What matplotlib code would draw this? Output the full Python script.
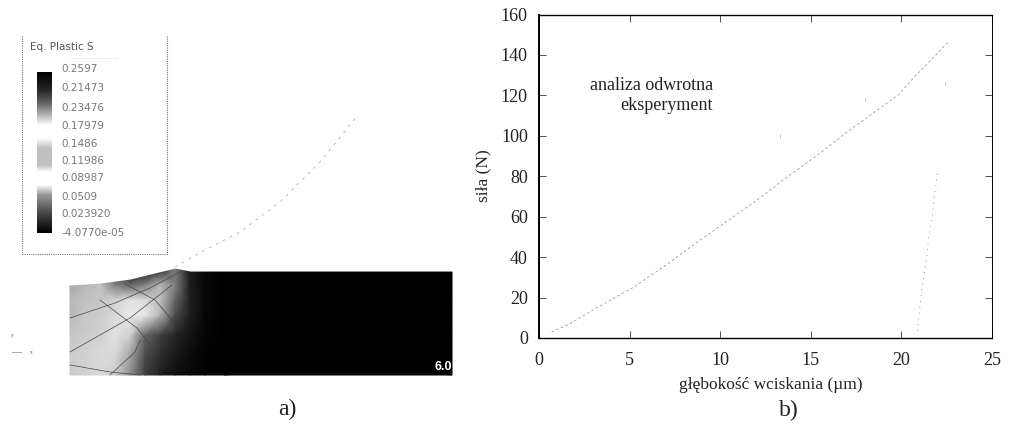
import numpy as np
import matplotlib
matplotlib.use("Agg")
import matplotlib.pyplot as plt

plt.rcParams['font.family'] = ['Liberation Serif', 'DejaVu Sans']

# b) force vs depth
x_analysis = [0.7, 1.7, 3.2, 5.2, 7.0, 8.9, 12.0, 13.3, 15.3, 16.8, 18.4, 19.8, 20.6, 21.9, 22.6]
y_analysis = [3, 7, 15, 25, 36, 48.5, 68, 77, 90, 100.5, 111, 120, 128, 140, 146.5]
x_unload = [20.9, 21.0, 21.2, 21.4, 21.5, 21.7, 21.8, 22.0]
y_unload = [3.5, 14, 29, 40, 50, 60, 69, 82]
x_stray = [13.3, 18.0, 22.4]
y_stray = [100, 118, 126]
x_ticks = [0, 5, 10, 15, 20, 25]
y_ticks = [0, 20, 40, 60, 80, 100, 120, 140, 160]

# a) FE contour, gray levels (1 = white)
mesh_x = [70, 85, 100, 115, 130, 145, 160, 175, 190, 205, 225, 452]
mesh_y = [266, 285, 300, 315, 335, 355, 375]
mesh_gray = [
    [0.10, 0.55, 0.65, 0.30, 0.02, 0.02, 0.05, 0.45, 0.10, 0.03, 0.0, 0.0],
    [0.65, 0.72, 0.75, 0.50, 0.40, 0.50, 0.72, 0.50, 0.12, 0.03, 0.0, 0.0],
    [0.72, 0.75, 0.78, 0.82, 0.88, 0.85, 0.75, 0.40, 0.12, 0.03, 0.0, 0.0],
    [0.72, 0.78, 0.80, 0.85, 0.92, 0.92, 0.70, 0.30, 0.12, 0.03, 0.0, 0.0],
    [0.78, 0.80, 0.82, 0.88, 0.82, 0.40, 0.25, 0.15, 0.08, 0.02, 0.0, 0.0],
    [0.80, 0.82, 0.85, 0.85, 0.65, 0.30, 0.18, 0.10, 0.05, 0.01, 0.0, 0.0],
    [0.80, 0.82, 0.85, 0.80, 0.55, 0.25, 0.12, 0.06, 0.03, 0.01, 0.0, 0.0],
]
top_x = [66, 70, 100, 130, 150, 175, 190, 456]
top_y = [284, 284, 282, 278, 273, 267, 270, 270]
lines_a = [
    ([70, 130, 172], [352, 318, 285]),
    ([70, 115, 150, 180], [318, 303, 288, 272]),
    ([100, 137, 150], [300, 328, 345]),
    ([70, 110, 140], [365, 372, 375]),
    ([125, 155, 172], [284, 300, 320]),
    ([140, 135, 110], [340, 352, 375]),
]
indenter_x = [175, 205, 240, 280, 320, 358]
indenter_y = [267, 250, 232, 202, 162, 115]

legend_title = "Eq. Plastic S"
legend_labels = ["0.2597", "0.21473", "0.23476", "0.17979", "0.1486",
                 "0.11986", "0.08987", "0.0509", "0.023920", "-4.0770e-05"]
legend_y = [69, 88, 108, 126, 144, 161, 178, 197, 214, 233]
bar_y = [72, 90, 103, 118, 125, 138, 148, 165, 172, 185, 195, 212, 233]
bar_gray = [0.0, 0.15, 0.4, 0.8, 1.0, 1.0, 0.75, 0.75, 1.0, 1.0, 0.6, 0.3, 0.0]

fig = plt.figure(figsize=(10.1, 4.25), dpi=100)

# left panel drawn on an axes in pixel units
left = fig.add_axes([0, 0, 1, 1])

left.pcolormesh(mesh_x, mesh_y, np.array(mesh_gray), cmap='gray', vmin=0, vmax=1,
                shading='gouraud', zorder=1)
# white out everything above the deformed top surface
left.fill_between(top_x, [258] * len(top_x), top_y, color='white', lw=1.5, zorder=2)
for lx, ly in lines_a:
    left.plot(lx, ly, color='#444444', lw=0.5, zorder=3)
left.plot(indenter_x, indenter_y, color='#bbbbbb', lw=0.7, ls=(0, (3, 5)), zorder=3)
left.text(443, 367, "6.0", color='white', fontsize=9, family='Liberation Sans', weight='bold',
          ha='center', va='center', zorder=4)

left.plot([22, 22, 167, 167], [36, 254, 254, 36], color='#777777', lw=0.8, ls=(0, (1, 1)))
left.text(30, 47, legend_title, fontsize=7.5, color='#555555', family='DejaVu Sans', va='center')
left.plot([70, 118], [58, 58], color='#bbbbbb', lw=0.5, ls=':')
for lab, ly in zip(legend_labels, legend_y):
    left.text(61, ly, lab, fontsize=7.5, color='#777777', family='DejaVu Sans', va='center')
left.imshow(np.interp(np.arange(72, 234), bar_y, bar_gray).reshape(-1, 1), cmap='gray',
            vmin=0, vmax=1, extent=[37, 52, 233, 72], aspect='auto', zorder=2)
left.set_xlim(0, 1010)
left.set_ylim(425, 0)
left.axis('off')

left.text(12, 335, "y", fontsize=4, color='#555555', ha='center', va='center')
left.text(31, 353, "x", fontsize=4, color='#555555', ha='center', va='center')
left.plot([12, 21], [352, 352], color='#999999', lw=0.6)
left.text(287, 409, "a)", fontsize=17, color='#222222', ha='center', va='center')
left.text(789, 410, "b)", fontsize=17, color='#222222', ha='center', va='center')

# right panel
ax = fig.add_axes([539 / 1010, 1 - 338 / 425, (992 - 539) / 1010, (338 - 14.5) / 425])
ax.plot(x_analysis, y_analysis, color='#999999', lw=0.6, ls=(0, (3, 3)))
ax.plot(x_unload, y_unload, color='#999999', lw=0.7, ls=(0, (1, 5)))
ax.plot(x_stray, y_stray, ls='none', marker='|', ms=3, mew=0.5, color='#bbbbbb')
ax.set_xlim(0, 25)
ax.set_ylim(0, 160)
ax.set_xticks(x_ticks)
ax.set_yticks(y_ticks)
ax.tick_params(direction='in', top=True, right=True, length=5, width=0.6, labelsize=13,
               color='#333333', labelcolor='#222222')
ax.tick_params(axis='x', pad=10)
ax.tick_params(axis='y', pad=8)
ax.spines['left'].set_linewidth(1.4)
ax.spines['bottom'].set_linewidth(1.0)
ax.spines['top'].set_linewidth(1.0)
ax.spines['right'].set_linewidth(0.7)
fig.text(771 / 1010, 1 - 385 / 425, "głębokość wciskania (µm)", fontsize=12.5, color='#222222',
         ha='center', va='center')
fig.text(483 / 1010, 1 - 176 / 425, "siła (N)", fontsize=12.5, color='#222222', rotation=90,
         ha='center', va='center')
fig.text(713 / 1010, 1 - 86 / 425, "analiza odwrotna", fontsize=13, color='#222222',
         ha='right', va='center')
fig.text(713 / 1010, 1 - 105 / 425, "eksperyment", fontsize=13, color='#222222',
         ha='right', va='center')

plt.savefig("out.png", dpi=100)
plt.close()
